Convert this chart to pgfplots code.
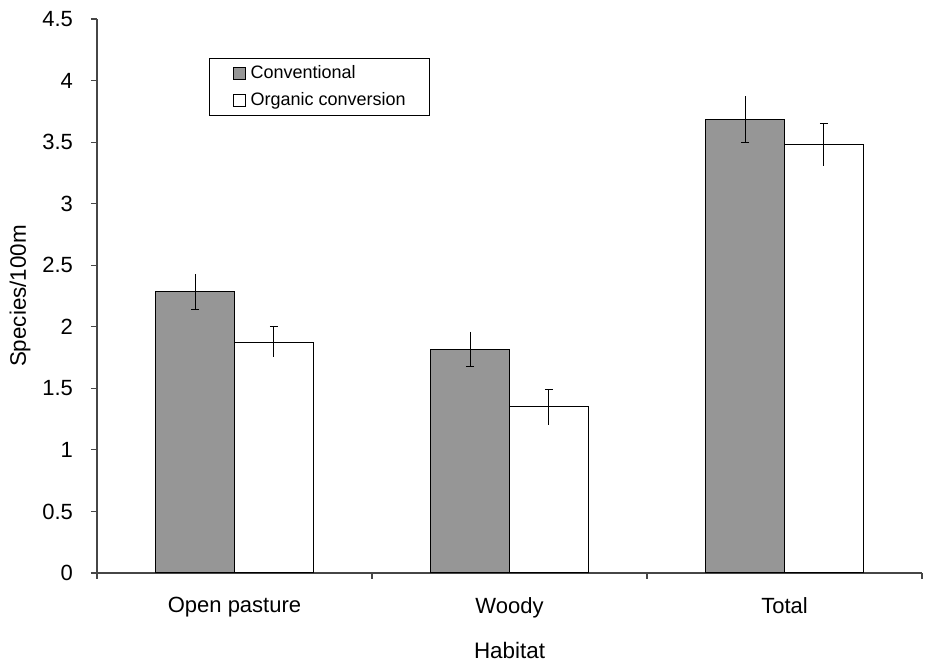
\documentclass[border=0pt]{standalone}
\usepackage{fontspec}
\setmainfont{Liberation Sans}
\usepackage{pgfplots}
\pgfplotsset{compat=1.18}
\definecolor{barg}{RGB}{150,150,150}
\definecolor{axg}{RGB}{70,70,70}
\pgfplotstableread{
x y e
1 2.284 0.145
2 1.818 0.142
3 3.686 0.187
}\conv
\pgfplotstableread{
x y e
1 1.876 0.124
2 1.349 0.143
3 3.478 0.170
}\org
\begin{document}
\begin{tikzpicture}
\path[use as bounding box] (-48.5pt,-44.5pt) rectangle (414pt,286.5pt);
\begin{axis}[
  at={(0,0)}, anchor=south west,
  scale only axis, width=412.5pt, height=277pt,
  xmin=0.5, xmax=3.5, ymin=0, ymax=4.5,
  axis x line*=bottom, axis y line*=left,
  axis line style={axg, line width=0.6pt},
  every tick/.style={axg, line width=0.6pt},
  tick align=outside, major tick length=3pt,
  ytick={0,0.5,...,4.5},
  xtick={0.5,1.5,2.5,3.5}, xticklabels={},
  extra x ticks={1,2,3},
  extra x tick labels={Open pasture,Woody,Total},
  extra x tick style={major tick length=0pt},
  xticklabel style={yshift=-8.5pt},
  yticklabel style={xshift=-5.5pt},
  /pgf/number format/assume math mode=true,
  tick label style={font=\fontsize{11}{13}\selectfont},
  label style={font=\fontsize{11.2}{13}\selectfont},
  ylabel={Species/100m},
  ylabel style={at={(axis description cs:-0.0933,0.5)}, anchor=center, rotate=0},
  xlabel={Habitat},
  xlabel style={at={(axis description cs:0.5,0)}, anchor=center, yshift=-38.5pt},
  ybar, bar width=0.287,
  legend style={at={(axis description cs:0.1358,0.9296)}, anchor=north west,
    draw=black, line width=0.5pt, font=\fontsize{9}{10.5}\selectfont,
    inner xsep=10pt, inner ysep=1.5pt, row sep=1.5pt,
    cells={anchor=west}},
  legend image code/.code={\path[draw=none, fill=none] (0pt,0pt) (8.5pt,0pt);
    \draw[#1, line width=0.5pt] (2pt,-3pt) rectangle (8pt,3pt);},
  error bars/error bar style={draw=black, line width=0.5pt},
]
\addplot[fill=barg, draw=black, line width=0.5pt, bar shift=-0.1435,
  error bars/.cd, y dir=plus, y explicit, error mark=none]
  table[x=x, y=y, y error=e] {\conv};
\addplot[fill=barg, draw=black, line width=0.5pt, bar shift=-0.1435, forget plot,
  error bars/.cd, y dir=minus, y explicit]
  table[x=x, y=y, y error=e] {\conv};
\addplot[fill=white, draw=black, line width=0.5pt, bar shift=0.1435,
  error bars/.cd, y dir=plus, y explicit]
  table[x=x, y=y, y error=e] {\org};
\addplot[fill=white, draw=black, line width=0.5pt, bar shift=0.1435, forget plot,
  error bars/.cd, y dir=minus, y explicit, error mark=none]
  table[x=x, y=y, y error=e] {\org};
\legend{Conventional, Organic conversion}
\end{axis}
\end{tikzpicture}
\end{document}
